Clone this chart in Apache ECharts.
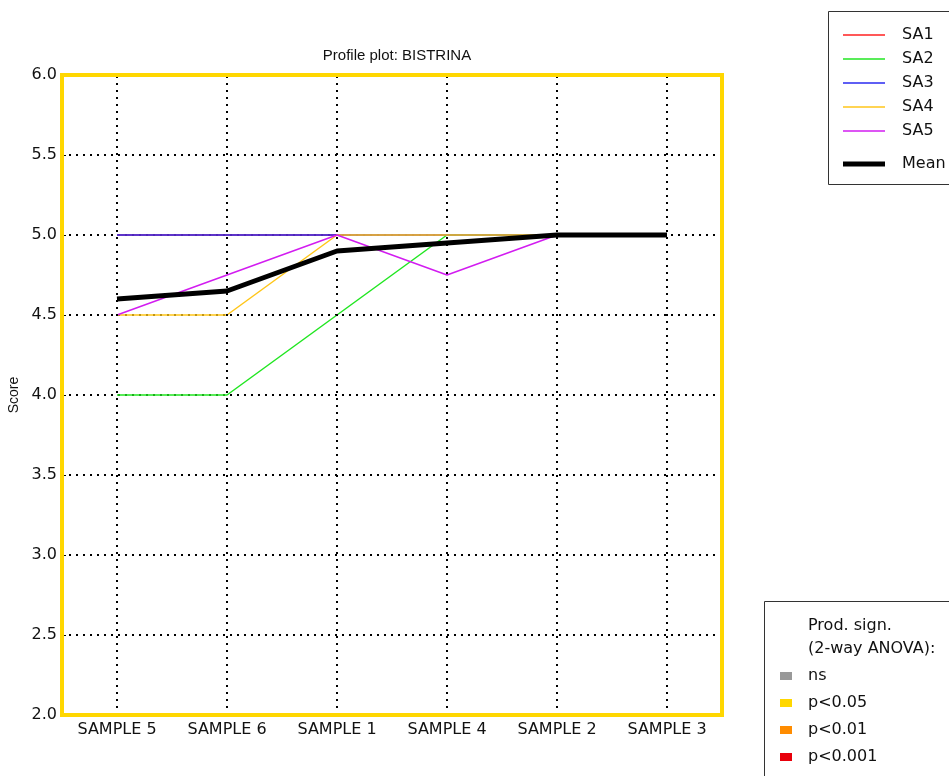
<!DOCTYPE html>
<html>
<head>
<meta charset="utf-8">
<script src="https://cdn.jsdelivr.net/npm/echarts@6/dist/echarts.min.js"></script>
<style>
  html, body { margin: 0; padding: 0; background: #fff; }
  #chart { width: 949px; height: 776px; }
</style>
</head>
<body>
<div id="chart"></div>
<script>
// categories (sample order as plotted)
const samples = ['SAMPLE 5', 'SAMPLE 6', 'SAMPLE 1', 'SAMPLE 4', 'SAMPLE 2', 'SAMPLE 3']

// assessor scores
const sa1 = [5, 5, 5, 5, 5, 5]
const sa2 = [4, 4, 4.5, 5, 5, 5]
const sa3 = [5, 5, 5, 5, 5, 5]
const sa4 = [4.5, 4.5, 5, 5, 5, 5]
const sa5 = [4.5, 4.75, 5, 4.75, 5, 5]
const meanScores = [4.6, 4.65, 4.9, 4.95, 5, 5]

// significance legend
const signLabels = ['ns', 'p<0.05', 'p<0.01', 'p<0.001']
const signColors = ['#999999', '#FFD700', '#FF8C00', '#E8000B']

const assessors = [
  { name: 'SA1', data: sa1, color: '#FF2020' },
  { name: 'SA2', data: sa2, color: '#22E622' },
  { name: 'SA3', data: sa3, color: '#2A2AF0' },
  { name: 'SA4', data: sa4, color: '#FFC61A' },
  { name: 'SA5', data: sa5, color: '#D21CF0' }
]

const chart = echarts.init(document.getElementById('chart'))

const series = []

// vertical dotted grid lines at each sample
series.push({
  name: 'vgrid',
  type: 'line',
  data: [],
  silent: true,
  z: 1,
  markLine: {
    silent: true,
    symbol: ['none', 'none'],
    label: { show: false },
    lineStyle: { color: '#000', width: 2, type: [2, 5] },
    data: samples.map(s => ({ xAxis: s }))
  }
})

assessors.forEach(a => {
  series.push({
    name: a.name,
    type: 'line',
    data: a.data,
    symbol: 'none',
    z: 2,
    lineStyle: { color: a.color, width: 1.5 },
    itemStyle: { color: a.color }
  })
})

series.push({
  name: 'Mean',
  type: 'line',
  data: meanScores,
  symbol: 'none',
  z: 3,
  lineStyle: { color: '#000', width: 5 },
  itemStyle: { color: '#000' }
})

signLabels.forEach((s, i) => {
  series.push({
    name: s,
    type: 'line',
    data: [],
    symbol: 'none',
    itemStyle: { color: signColors[i] },
    lineStyle: { color: signColors[i] }
  })
})

const legendText = { fontFamily: 'DejaVu Sans', fontSize: 16, color: '#111', padding: [0, 0, 0, 12] }

const option = {
  animation: false,
  backgroundColor: '#fff',
  title: {
    text: 'Profile plot: BISTRINA',
    left: 392,
    top: 43,
    textAlign: 'center',
    textStyle: { fontFamily: 'Liberation Sans', fontSize: 15, fontWeight: 'normal', color: '#111' }
  },
  grid: {
    left: 62,
    top: 75,
    width: 660,
    height: 640,
    outerBoundsMode: 'none',
    containLabel: false,
    show: true,
    borderColor: '#FFD700',
    borderWidth: 4,
    backgroundColor: 'transparent',
    z: 10
  },
  xAxis: {
    type: 'category',
    data: samples,
    boundaryGap: true,
    axisLine: { show: false },
    axisTick: { show: false },
    splitLine: { show: false },
    axisLabel: { fontFamily: 'DejaVu Sans', fontSize: 16, color: '#111', margin: 7 }
  },
  yAxis: {
    type: 'value',
    min: 2,
    max: 6,
    interval: 0.5,
    name: 'Score',
    nameLocation: 'middle',
    nameRotate: 90,
    nameGap: 37,
    nameTextStyle: { fontFamily: 'Liberation Sans', fontSize: 14, color: '#111' },
    axisLine: { show: false },
    axisTick: { show: true, inside: true, length: 4, lineStyle: { color: '#000' } },
    axisLabel: {
      fontFamily: 'DejaVu Sans',
      fontSize: 16,
      color: '#111',
      margin: 5,
      formatter: v => v.toFixed(1)
    },
    splitLine: {
      show: true,
      showMinLine: false,
      showMaxLine: false,
      lineStyle: { color: '#000', width: 2, type: [2, 5] }
    }
  },
  legend: [
    {
      data: ['SA1', 'SA2', 'SA3', 'SA4', 'SA5'],
      orient: 'vertical',
      left: 843,
      top: 27,
      padding: 0,
      itemWidth: 42,
      itemHeight: 14,
      itemGap: 8,
      icon: 'path://M0,0 L84,0 L84,3 L0,3 Z',
      textStyle: legendText,
      selectedMode: false
    },
    {
      data: ['Mean'],
      orient: 'vertical',
      left: 843,
      top: 156,
      padding: 0,
      itemWidth: 42,
      itemHeight: 14,
      icon: 'path://M0,0 L42,0 L42,5 L0,5 Z',
      textStyle: legendText,
      selectedMode: false
    },
    {
      data: signLabels,
      orient: 'vertical',
      left: 780,
      top: 668,
      padding: 0,
      icon: 'rect',
      itemWidth: 12,
      itemHeight: 8,
      itemGap: 11,
      textStyle: { fontFamily: 'DejaVu Sans', fontSize: 16, color: '#111', padding: [0, 0, 0, 11] },
      selectedMode: false
    }
  ],
  graphic: [
    {
      type: 'rect',
      shape: { x: 828.5, y: 11.5, width: 140, height: 173 },
      style: { fill: 'none', stroke: '#333', lineWidth: 1 },
      silent: true
    },
    {
      type: 'rect',
      shape: { x: 764.5, y: 601.5, width: 200, height: 200 },
      style: { fill: 'none', stroke: '#333', lineWidth: 1 },
      silent: true
    },
    {
      type: 'text',
      left: 808,
      top: 614,
      style: {
        text: 'Prod. sign.\n(2-way ANOVA):',
        font: '16px "DejaVu Sans"',
        fill: '#111',
        lineHeight: 23
      },
      silent: true
    }
  ],
  series: series
}

chart.setOption(option)
</script>
</body>
</html>
